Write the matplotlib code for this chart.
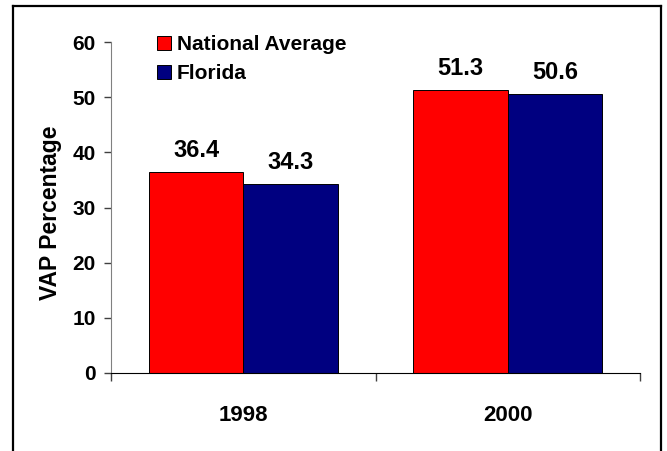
import matplotlib
matplotlib.use('Agg')
import matplotlib.pyplot as plt
from matplotlib.lines import Line2D
from matplotlib.patches import Patch
import numpy as np

# data
years = ['1998', '2000']
national = [36.4, 51.3]
florida = [34.3, 50.6]
series_names = ['National Average', 'Florida']
yticks = [0, 10, 20, 30, 40, 50, 60]

plt.rcParams['font.family'] = ['Liberation Sans', 'DejaVu Sans']
plt.rcParams['font.weight'] = 'bold'

fig = plt.figure(figsize=(6.67, 4.51), dpi=100)
ax = fig.add_axes([111/667, 1 - 373/451, 529/667, 331/451])

x = np.arange(len(years))
w = 0.357
b1 = ax.bar(x - w/2, national, w, color='#FF0000', edgecolor='black', linewidth=0.7)
b2 = ax.bar(x + w/2, florida, w, color='#000080', edgecolor='black', linewidth=0.7)

for bars, vals in ((b1, national), (b2, florida)):
    for r, v in zip(bars, vals):
        ax.annotate('%.1f' % v, (r.get_x() + r.get_width()/2, v), xytext=(0, 7),
                    textcoords='offset points', ha='center', va='bottom',
                    fontsize=17, fontweight='bold')

ax.set_xlim(-0.5, 1.5)
ax.set_ylim(0, 60)
ax.set_yticks(yticks)
ax.set_yticklabels([str(t) for t in yticks], fontsize=15, fontweight='bold')
ax.set_xticks([-0.5, 0.5, 1.5])
ax.set_xticklabels(['', '', ''])
ax.set_xticks(x, minor=True)
ax.set_xticklabels(years, minor=True, fontsize=16, fontweight='bold')
ax.tick_params(axis='x', which='major', length=6, width=1, color='#404040')
ax.tick_params(axis='x', which='minor', length=0, pad=23)
ax.tick_params(axis='y', length=5, width=1, color='#404040', pad=6)

for s in ('top', 'right'):
    ax.spines[s].set_visible(False)
ax.spines['left'].set_color('#808080')
ax.spines['bottom'].set_color('black')

ax.set_ylabel('VAP Percentage', fontsize=16.5, fontweight='bold')
ax.yaxis.set_label_coords(-0.093, 0.485)

handles = [Patch(facecolor='#FF0000', edgecolor='black', linewidth=0.7),
           Patch(facecolor='#000080', edgecolor='black', linewidth=0.7)]
ax.legend(handles, series_names, loc='upper left', bbox_to_anchor=(157/667, 1 - 35/451),
          bbox_transform=fig.transFigure, frameon=False,
          handlelength=0.65, handleheight=0.65, handletextpad=0.3, labelspacing=0.5,
          borderpad=0, borderaxespad=0, prop={'weight': 'bold', 'size': 15})

# outer frame (open at the bottom)
fx0, fx1, fy = 13/667, 661/667, 1 - 6/451
for xs, ys in (([fx0, fx0], [0, fy]), ([fx0, fx1], [fy, fy]), ([fx1, fx1], [fy, 0])):
    fig.add_artist(Line2D(xs, ys, color='black', linewidth=1.6, transform=fig.transFigure))

fig.savefig('out.png', dpi=100)
